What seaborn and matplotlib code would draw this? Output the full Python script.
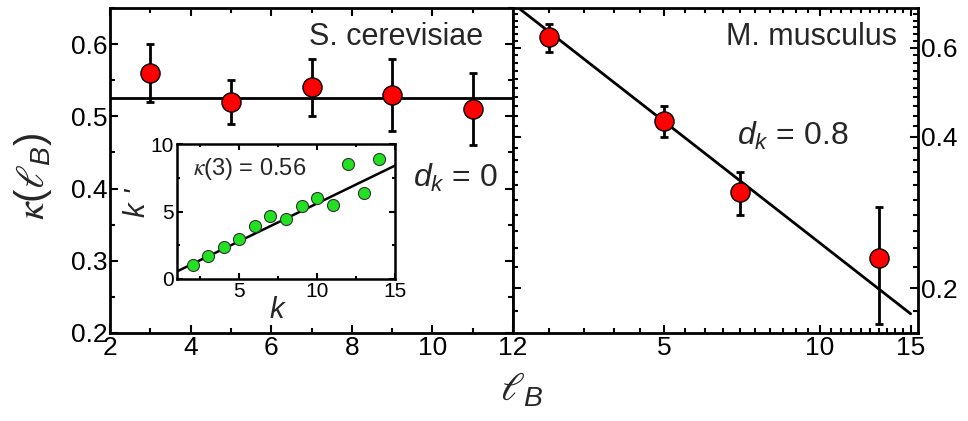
import numpy as np
import matplotlib
matplotlib.use("Agg")
import matplotlib.pyplot as plt
import seaborn as sns
from matplotlib.ticker import MultipleLocator, FixedLocator, NullFormatter, FixedFormatter

sns.set_style("ticks")
plt.rcParams['font.family'] = ['Liberation Sans', 'DejaVu Sans']
plt.rcParams['mathtext.fontset'] = 'custom'
plt.rcParams['mathtext.rm'] = 'Liberation Sans'
plt.rcParams['mathtext.it'] = 'Liberation Sans:italic'
plt.rcParams['mathtext.sf'] = 'STIXGeneral:italic'  # script ell and kappa

# S. cerevisiae
yeast_lb = [3, 5, 7, 9, 11]
yeast_kappa = [0.56, 0.52, 0.54, 0.53, 0.51]
yeast_err = [0.04, 0.03, 0.04, 0.05, 0.05]
yeast_fit = 0.526

# M. musculus
mouse_lb = [3, 5, 7, 13]
mouse_kappa = [0.63, 0.43, 0.31, 0.23]
mouse_lo = [0.59, 0.40, 0.28, 0.17]
mouse_hi = [0.67, 0.46, 0.34, 0.29]
mouse_amp = 1.553
mouse_dk = 0.8

# inset: k' vs k
inset_k = [2, 3, 4, 5, 6, 7, 8, 9, 10, 11, 12, 13, 14]
inset_kp = [1.06, 1.67, 2.37, 2.96, 3.94, 4.63, 4.48, 5.42, 6.03, 5.49, 8.52, 6.40, 8.87]
inset_slope = 0.56

W, H = 968, 421
fig = plt.figure(figsize=(W / 100, H / 100), dpi=100)

def box(l, t, r, b):
    return [l / W, (H - b) / H, (r - l) / W, (b - t) / H]

ax1 = fig.add_axes(box(110, 8, 513, 333))
ax2 = fig.add_axes(box(513, 8, 918, 333))
axi = fig.add_axes(box(177, 144, 395, 279))

def style(ax, lw=2):
    for s in ax.spines.values():
        s.set_linewidth(lw)
        s.set_color('black')
    ax.tick_params(which='both', direction='in', top=True, right=True, width=1.5, colors='black')
    ax.tick_params(which='major', length=6)
    ax.tick_params(which='minor', length=3.5)

# ---- left panel
ax1.errorbar(yeast_lb, yeast_kappa, yerr=yeast_err, fmt='none', ecolor='black',
             elinewidth=2, capsize=3, capthick=2, zorder=2)
sns.lineplot(x=[2, 12], y=[yeast_fit, yeast_fit], ax=ax1, color='black', lw=2, zorder=1)
sns.scatterplot(x=yeast_lb, y=yeast_kappa, ax=ax1, s=190, color='red',
                edgecolor='black', linewidth=1, zorder=3)
ax1.set_xlim(2, 12)
ax1.set_ylim(0.2, 0.65)
ax1.xaxis.set_major_locator(MultipleLocator(2))
ax1.xaxis.set_minor_locator(MultipleLocator(1))
ax1.set_yticks([0.2, 0.3, 0.4, 0.5, 0.6], ['0.2', '0.3', '0.4', '0.5', '0.6'])
ax1.yaxis.set_minor_locator(MultipleLocator(0.05))
style(ax1)
ax1.tick_params(labelsize=19, pad=2)
ax1.text(0.926, 0.886, 'S. cerevisiae', transform=ax1.transAxes, ha='right',
         va='baseline', fontsize=22)
ax1.text(0.752, 0.449, r'$d_k$ = 0', transform=ax1.transAxes, ha='left',
         va='baseline', fontsize=23)

# ---- right panel (log-log)
xfit = np.array([2.55, 15])
ax2.errorbar(mouse_lb, mouse_kappa,
             yerr=[np.subtract(mouse_kappa, mouse_lo), np.subtract(mouse_hi, mouse_kappa)],
             fmt='none', ecolor='black', elinewidth=2, capsize=3, capthick=2, zorder=2)
sns.lineplot(x=xfit, y=mouse_amp * xfit ** (-mouse_dk), ax=ax2, color='black', lw=2, zorder=1)
sns.scatterplot(x=mouse_lb, y=mouse_kappa, ax=ax2, s=190, color='red',
                edgecolor='black', linewidth=1, zorder=3)
ax2.set_xscale('log')
ax2.set_yscale('log')
ax2.set_xlim(2.55, 15.5)
ax2.set_ylim(0.163, 0.72)
ax2.xaxis.set_major_locator(FixedLocator([5, 10, 15]))
ax2.xaxis.set_major_formatter(FixedFormatter(['5', '10', '15']))
ax2.xaxis.set_minor_locator(FixedLocator(np.arange(3, 15.5, 0.5)))
ax2.xaxis.set_minor_formatter(NullFormatter())
ax2.yaxis.set_major_locator(FixedLocator([0.2, 0.4, 0.6]))
ax2.yaxis.set_major_formatter(FixedFormatter(['0.2', '0.4', '0.6']))
ax2.yaxis.set_minor_locator(FixedLocator(np.arange(0.18, 0.72, 0.02)))
ax2.yaxis.set_minor_formatter(NullFormatter())
style(ax2)
ax2.tick_params(labelsize=19, labelleft=False, labelright=True, pad=2)
ax2.text(0.948, 0.886, 'M. musculus', transform=ax2.transAxes, ha='right',
         va='baseline', fontsize=22)
ax2.text(0.553, 0.578, r'$d_k$ = 0.8', transform=ax2.transAxes, ha='left',
         va='baseline', fontsize=23)

# ---- inset
kk = np.array([1, 15])
sns.lineplot(x=kk, y=inset_slope * kk, ax=axi, color='black', lw=1.8, zorder=1)
sns.scatterplot(x=inset_k, y=inset_kp, ax=axi, s=75, color='#22e022',
                edgecolor='#333333', linewidth=0.8, zorder=3)
axi.set_xlim(1, 15)
axi.set_ylim(0, 10)
axi.xaxis.set_major_locator(FixedLocator([5, 10, 15]))
axi.xaxis.set_minor_locator(MultipleLocator(2.5))
axi.yaxis.set_major_locator(MultipleLocator(5))
axi.yaxis.set_minor_locator(MultipleLocator(2.5))
style(axi, lw=1.8)
axi.tick_params(labelsize=15, pad=2)
axi.tick_params(which='major', length=4)
axi.tick_params(which='minor', length=2.5)
axi.text(0.075, 0.771, r'$\mathsf{\kappa}$(3) = 0.56', transform=axi.transAxes, ha='left',
         va='baseline', fontsize=17)
fig.text(277 / W, 1 - 310 / H, 'k', style='italic', fontsize=21, ha='center', va='center')
fig.text(137 / W, 1 - 203 / H, "k '", style='italic', fontsize=21, ha='center',
         va='center', rotation=90)

# axis labels
fig.text(522 / W, 1 - 390 / H, r'$\mathsf{\ell}_B$', fontsize=29, ha='center', va='center')
fig.text(33 / W, 1 - 176 / H, r'$\mathsf{\kappa}(\mathsf{\ell}_B)$', fontsize=29,
         ha='center', va='center', rotation=90)

fig.savefig('out.png', dpi=100)
